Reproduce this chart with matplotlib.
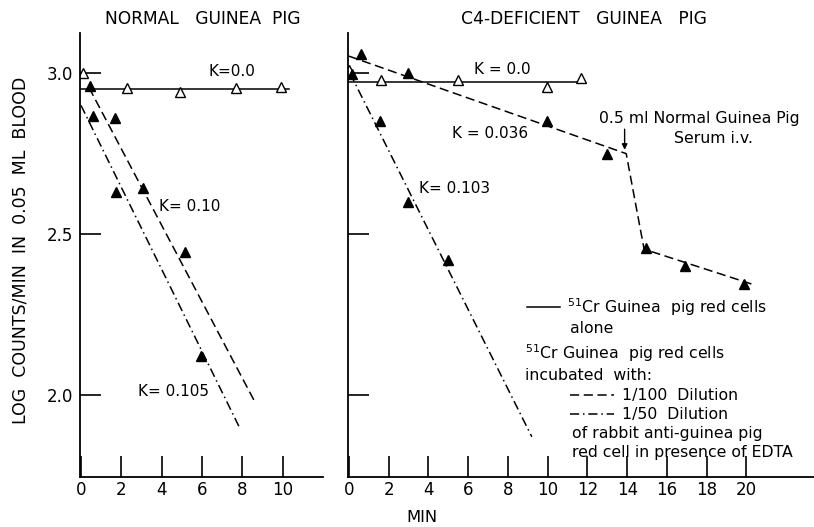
import matplotlib.pyplot as plt
from matplotlib.lines import Line2D

# ---- data (x in min, y in log counts/min) ----
# normal guinea pig
norm_open_x = [0.1, 2.3, 4.9, 7.7, 9.9]
norm_open_y = [3.0, 2.953, 2.941, 2.953, 2.957]
norm_flat_x = [0, 10.3]
norm_flat_y = [2.95, 2.95]
norm_filled_x = [0.45, 0.6, 1.7, 1.75, 3.05, 5.15, 5.95]
norm_filled_y = [2.96, 2.866, 2.86, 2.63, 2.643, 2.444, 2.121]
norm_d100_x = [0.4, 8.65]
norm_d100_y = [2.955, 1.975]
norm_d50_x = [0, 7.85]
norm_d50_y = [2.9, 1.90]

# C4-deficient guinea pig
c4_open_x = [0.0, 1.6, 5.5, 9.95, 11.7]
c4_open_y = [3.01, 2.98, 2.98, 2.957, 2.985]
c4_flat_x = [0, 11.9]
c4_flat_y = [2.972, 2.972]
c4_filled_x = [0.15, 0.6, 2.97, 1.56, 2.97, 5.0, 9.95, 12.96, 14.97, 16.93, 19.9]
c4_filled_y = [2.997, 3.06, 3.0, 2.85, 2.60, 2.42, 2.85, 2.75, 2.457, 2.40, 2.345]
c4_d100_x = [0, 13.95, 14.85, 20.25]
c4_d100_y = [3.053, 2.75, 2.453, 2.345]
c4_d50_x = [0.05, 9.2]
c4_d50_y = [3.0, 1.87]

serum_x = 13.87  # time of serum injection

yticks = [2.0, 2.5, 3.0]
ytick_labels = ['2.0', '2.5', '3.0']
left_xticks = [0, 2, 4, 6, 8, 10]
right_xticks = [0, 2, 4, 6, 8, 10, 12, 14, 16, 18, 20]

FS = 11.3     # legend / annotation text
KFS = 11      # K = ... labels
DASH = (6, 3)
DASHDOT = (6, 2.5, 1, 2.5)
plt.rcParams['font.family'] = 'DejaVu Sans'

fig = plt.figure(figsize=(8.14, 5.27), dpi=100)
ax1 = fig.add_axes([80/814, 1-477/527, 243/814, 444/527])
ax2 = fig.add_axes([348/814, 1-477/527, 466/814, 444/527])


def style_axes(ax, xlim, xticks, labels):
    ax.set_xlim(*xlim)
    ax.set_ylim(1.745, 3.125)
    ax.spines['right'].set_visible(False)
    ax.spines['top'].set_visible(False)
    for s in ['left', 'bottom']:
        ax.spines[s].set_linewidth(1.3)
    ax.set_xticks(xticks)
    ax.set_xticklabels([str(t) for t in xticks])
    ax.set_yticks(yticks)
    ax.set_yticklabels(ytick_labels if labels else [])
    ax.tick_params(direction='in', length=15, width=1.2, labelsize=12, pad=3)
    ax.tick_params(axis='y', pad=5)
    ax.patch.set_visible(False)


style_axes(ax1, (-0.05, 12.0), left_xticks, True)
style_axes(ax2, (-0.05, 23.4), right_xticks, False)

kw = dict(color='black', lw=1.1)
tri = dict(linestyle='none', marker='^', markersize=6.5, color='black')

# Normal panel
ax1.plot(norm_flat_x, norm_flat_y, **kw)
ax1.plot(norm_d100_x, norm_d100_y, dashes=DASH, **kw)
ax1.plot(norm_d50_x, norm_d50_y, dashes=DASHDOT, **kw)
ax1.plot(norm_open_x, norm_open_y, markerfacecolor='white', markeredgewidth=1.0, **tri)
ax1.plot(norm_filled_x, norm_filled_y, **tri)
ax1.text(7.48, 3.006, 'K=0.0', fontsize=KFS, ha='center', va='center')
ax1.text(5.4, 2.587, 'K= 0.10', fontsize=KFS, ha='center', va='center')
ax1.text(4.6, 2.012, 'K= 0.105', fontsize=KFS, ha='center', va='center')

# C4-deficient panel
ax2.plot(c4_flat_x, c4_flat_y, **kw)
ax2.plot(c4_d100_x, c4_d100_y, dashes=DASH, **kw)
ax2.plot(c4_d50_x, c4_d50_y, dashes=DASHDOT, **kw)
ax2.plot(c4_open_x, c4_open_y, markerfacecolor='white', markeredgewidth=1.0, **tri)
ax2.plot(c4_filled_x, c4_filled_y, **tri)
ax2.text(7.74, 3.012, 'K = 0.0', fontsize=KFS, ha='center', va='center')
ax2.text(7.09, 2.814, 'K = 0.036', fontsize=KFS, ha='center', va='center')
ax2.text(5.33, 2.643, 'K= 0.103', fontsize=KFS, ha='center', va='center')

# serum injection arrow
ax2.annotate('', xy=(serum_x, 2.762), xytext=(serum_x, 2.826),
             arrowprops=dict(arrowstyle='-|>', color='black', lw=1.0,
                             mutation_scale=8, shrinkA=0, shrinkB=0))
ax2.text(17.64, 2.860, '0.5 ml Normal Guinea Pig', fontsize=FS, ha='center', va='center')
ax2.text(18.34, 2.798, 'Serum i.v.', fontsize=FS, ha='center', va='center')

# legend block
leg1 = ax2.legend([Line2D([], [], **kw)], ['$^{51}$Cr Guinea  pig red cells'],
                  loc='center left', bbox_to_anchor=(8.94, 2.273),
                  bbox_transform=ax2.transData, frameon=False, fontsize=FS,
                  borderpad=0, borderaxespad=0, handlelength=2.1, handletextpad=0.5)
ax2.add_artist(leg1)
ax2.text(11.1, 2.208, 'alone', fontsize=FS, ha='left', va='center')
ax2.text(8.84, 2.130, '$^{51}$Cr Guinea  pig red cells', fontsize=FS, ha='left', va='center')
ax2.text(8.84, 2.059, 'incubated  with:', fontsize=FS, ha='left', va='center')
ax2.legend([Line2D([], [], dashes=DASH, **kw), Line2D([], [], dashes=DASHDOT, **kw)],
           ['1/100  Dilution', '1/50  Dilution'],
           loc='center left', bbox_to_anchor=(11.1, 1.9675),
           bbox_transform=ax2.transData, frameon=False, fontsize=FS,
           borderpad=0, borderaxespad=0, handlelength=2.85, handletextpad=0.5,
           labelspacing=0.25)
ax2.text(11.2, 1.879, 'of rabbit anti-guinea pig', fontsize=FS, ha='left', va='center')
ax2.text(11.2, 1.820, 'red cell in presence of EDTA', fontsize=FS, ha='left', va='center')

# titles and axis labels
fig.text(203/814, 1-19/527, 'NORMAL   GUINEA  PIG', fontsize=12.3, ha='center', va='center')
fig.text(584/814, 1-19/527, 'C4-DEFICIENT   GUINEA   PIG', fontsize=12.3, ha='center', va='center')
fig.text(422/814, 1-518/527, 'MIN', fontsize=11.8, ha='center', va='center')
fig.text(21/814, 1-250/527, 'LOG  COUNTS/MIN  IN  0.05  ML  BLOOD', fontsize=12.5,
         ha='center', va='center', rotation=90)

fig.savefig('out.png', dpi=100)
